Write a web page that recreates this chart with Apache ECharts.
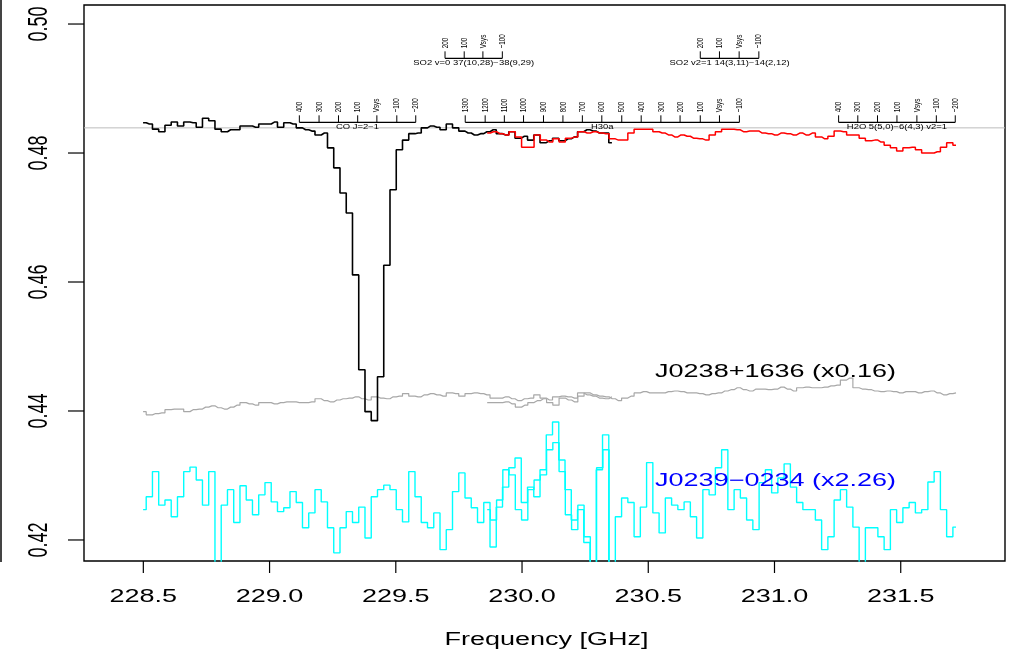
<!DOCTYPE html>
<html><head><meta charset="utf-8">
<script src="https://cdn.jsdelivr.net/npm/echarts@6/dist/echarts.min.js"></script>
<style>html,body{margin:0;padding:0;background:#fff}#c{width:1026px;height:652px}</style>
</head><body><div id="c"></div>
<script>
// ---- data ----
const chanWidth = 0.02476;   // GHz per channel
const startA = 228.499;      // first channel, window A
const startB = 229.862;      // first channel, window B

const coA = [0.4847,0.4845,0.4837,0.4833,0.4843,0.4848,0.4842,0.4848,0.4847,0.4840,
0.4854,0.4850,0.4837,0.4833,0.4836,0.4836,0.4842,0.4842,0.4840,0.4845,
0.4845,0.4848,0.4840,0.4847,0.4845,0.4839,0.4836,0.4834,0.4828,0.4831,
0.4808,0.4777,0.4738,0.4707,0.4611,0.4464,0.4399,0.4385,0.4453,0.4626,
0.4743,0.4805,0.4820,0.4830,0.4831,0.4839,0.4842,0.4840,0.4836,0.4845,
0.4839,0.4834,0.4831,0.4828,0.4830,0.4833,0.4836,0.4830,0.4828,0.4833,
0.4823,0.4826,0.4820,0.4828,0.4816,0.4819,0.4823,0.4819,0.4822,0.4825,
0.4833,0.4836,0.4834,0.4831,0.4831,0.4816];

const redB = [0.4831,0.4833,0.4830,0.4828,0.4833,0.4825,0.4809,0.4809,0.4828,0.4820,
0.4817,0.4822,0.4817,0.4823,0.4825,0.4833,0.4831,0.4833,0.4831,0.4830,
0.4822,0.4820,0.4820,0.4831,0.4837,0.4837,0.4837,0.4833,0.4831,0.4828,
0.4825,0.4828,0.4826,0.4823,0.4822,0.4820,0.4828,0.4833,0.4837,0.4837,
0.4836,0.4833,0.4834,0.4834,0.4831,0.4830,0.4828,0.4831,0.4830,0.4828,
0.4831,0.4828,0.4831,0.4825,0.4822,0.4826,0.4834,0.4833,0.4828,0.4828,
0.4823,0.4819,0.4820,0.4817,0.4812,0.4808,0.4803,0.4808,0.4809,0.4805,
0.4800,0.4800,0.4802,0.4809,0.4816,0.4812];

const grayA = [0.4399,0.4394,0.4396,0.4397,0.4402,0.4403,0.4403,0.4399,0.4402,0.4403,
0.4406,0.4408,0.4405,0.4403,0.4406,0.4409,0.4413,0.4411,0.4409,0.4413,
0.4413,0.4411,0.4413,0.4414,0.4414,0.4413,0.4413,0.4414,0.4419,0.4416,
0.4414,0.4417,0.4419,0.4420,0.4422,0.4419,0.4417,0.4422,0.4420,0.4419,
0.4422,0.4423,0.4427,0.4423,0.4422,0.4425,0.4427,0.4425,0.4423,0.4428,
0.4427,0.4423,0.4427,0.4428,0.4427,0.4425,0.4420,0.4420,0.4422,0.4419,
0.4416,0.4419,0.4420,0.4425,0.4420,0.4417,0.4422,0.4423,0.4422,0.4420,
0.4428,0.4425,0.4423,0.4420,0.4419,0.4422];

const grayB = [0.4413,0.4413,0.4413,0.4414,0.4411,0.4406,0.4409,0.4413,0.4416,0.4419,
0.4413,0.4409,0.4420,0.4417,0.4414,0.4423,0.4428,0.4425,0.4423,0.4422,
0.4419,0.4416,0.4420,0.4423,0.4428,0.4430,0.4428,0.4428,0.4428,0.4430,
0.4431,0.4430,0.4428,0.4428,0.4427,0.4425,0.4427,0.4428,0.4431,0.4433,
0.4436,0.4433,0.4431,0.4434,0.4434,0.4433,0.4434,0.4437,0.4434,0.4431,
0.4436,0.4437,0.4436,0.4436,0.4437,0.4439,0.4440,0.4448,0.4451,0.4436,
0.4434,0.4433,0.4431,0.4430,0.4431,0.4430,0.4428,0.4430,0.4430,0.4428,
0.4430,0.4431,0.4428,0.4425,0.4427,0.4428];

const cyanA = [0.4247,0.4267,0.4306,0.4254,0.4262,0.4236,0.4267,0.4306,0.4313,0.4293,
0.4254,0.4306,0.4160,0.4254,0.4278,0.4227,0.4284,0.4262,0.4239,0.4270,
0.4289,0.4259,0.4244,0.4250,0.4275,0.4258,0.4219,0.4242,0.4278,0.4259,
0.4219,0.4180,0.4219,0.4244,0.4227,0.4251,0.4203,0.4267,0.4278,0.4285,
0.4278,0.4247,0.4228,0.4306,0.4267,0.4227,0.4219,0.4242,0.4185,0.4216,
0.4275,0.4304,0.4265,0.4250,0.4227,0.4258,0.4189,0.4251,0.4282,0.4312,
0.4327,0.4258,0.4282,0.4267,0.4309,0.4363,0.4383,0.4324,0.4278,0.4231,
0.4247,0.4196,0.4160,0.4309,0.4363,0.4160];

const cyanB = [0.4247,0.4231,0.4262,0.4309,0.4301,0.4247,0.4231,0.4278,0.4293,0.4301,
0.4340,0.4351,0.4306,0.4239,0.4216,0.4254,0.4205,0.4160,0.4312,0.4340,
0.4160,0.4236,0.4265,0.4258,0.4205,0.4251,0.4320,0.4242,0.4211,0.4265,
0.4254,0.4247,0.4259,0.4236,0.4203,0.4278,0.4270,0.4312,0.4340,0.4247,
0.4278,0.4265,0.4231,0.4216,0.4289,0.4309,0.4273,0.4296,0.4318,0.4282,
0.4258,0.4247,0.4247,0.4231,0.4185,0.4205,0.4262,0.4278,0.4251,0.4220,
0.4160,0.4219,0.4219,0.4205,0.4185,0.4247,0.4227,0.4250,0.4258,0.4242,
0.4247,0.4290,0.4306,0.4247,0.4205,0.4220];

const xTicks = [228.5, 229.0, 229.5, 230.0, 230.5, 231.0, 231.5];
const xTickLabels = ['228.5','229.0','229.5','230.0','230.5','231.0','231.5'];
const yTicks = [0.42, 0.44, 0.46, 0.48, 0.50];
const yTickLabels = ['0.42','0.44','0.46','0.48','0.50'];
const contLevel = 0.4839;

const velLabels7 = ['400','300','200','100','Vsys','\u2212100','\u2212200'];
const velLabelsH30 = ['1300','1200','1100','1000','900','800','700','600','500','400','300','200','100','Vsys','\u2212100'];
const velLabelsSO2 = ['200','100','Vsys','\u2212100'];

const coTicks  = [229.118,229.196,229.273,229.349,229.425,229.504,229.579];
const h30Ticks = [229.775,229.854,229.930,230.006,230.085,230.162,230.239,230.316,230.395,230.472,230.550,230.626,230.706,230.782,230.861];
const so2aTicks = [229.695,229.771,229.845,229.922];
const so2bTicks = [230.706,230.782,230.860,230.938];
const h2oTicks = [231.254,231.330,231.408,231.485,231.564,231.641,231.716];

const markerNames = ['CO J=2\u22121','H30a','SO2 v=0 37(10,28)\u221238(9,29)','SO2 v2=1 14(3,11)\u221214(2,12)','H2O 5(5,0)\u22126(4,3) v2=1'];
const markerLevels = [0.48476, 0.48476, 0.49468, 0.49468, 0.48476];
const markers = [
  {name: markerNames[0], level: markerLevels[0], ticks: coTicks,  labels: velLabels7},
  {name: markerNames[1], level: markerLevels[1], ticks: h30Ticks, labels: velLabelsH30},
  {name: markerNames[2], level: markerLevels[2], ticks: so2aTicks, labels: velLabelsSO2},
  {name: markerNames[3], level: markerLevels[3], ticks: so2bTicks, labels: velLabelsSO2},
  {name: markerNames[4], level: markerLevels[4], ticks: h2oTicks, labels: velLabels7}
];

// ---- chart ----
const xMin = 228.265, xMax = 231.913, yMin = 0.41674, yMax = 0.50295;
const FONT = '"Liberation Sans", Arial, Helvetica, sans-serif';
const SX = 1.5; // horizontal glyph stretch of the reference

function pairs(start, vals) { return vals.map((v, i) => [+(start + i * chanWidth).toFixed(5), v]); }

function stepLine(name, data, color, width, z) {
  return {
    name, type: 'line', data, step: 'middle', showSymbol: false, symbol: 'none',
    silent: true, animation: false, clip: true, z,
    lineStyle: { color, width }
  };
}

const chart = echarts.init(document.getElementById('c'), null, { renderer: 'canvas' });

const option = {
  animation: false,
  backgroundColor: '#fff',
  grid: { left: 84, right: 21, top: 5, bottom: 91, show: true, borderColor: '#000', borderWidth: 1.4, backgroundColor: 'transparent' },
  xAxis: { type: 'value', min: xMin, max: xMax, axisLine: { show: false }, axisTick: { show: false }, axisLabel: { show: false }, splitLine: { show: false } },
  yAxis: { type: 'value', min: yMin, max: yMax, axisLine: { show: false }, axisTick: { show: false }, axisLabel: { show: false }, splitLine: { show: false } },
  graphic: [
    { type: 'line', shape: { x1: 1, y1: 0, x2: 1, y2: 562 }, style: { stroke: '#444', lineWidth: 2 }, silent: true }
  ],
  series: [
    { name: 'continuum', type: 'line', data: [[xMin, contLevel], [xMax, contLevel]], showSymbol: false, symbol: 'none',
      silent: true, animation: false, z: 1, lineStyle: { color: '#bdbdbd', width: 1 } },
    stepLine('J0239-0234 A', pairs(startA, cyanA), '#00ffff', 1.4, 2),
    stepLine('J0239-0234 B', pairs(startB, cyanB), '#00ffff', 1.4, 2),
    stepLine('J0238+1636 A', pairs(startA, grayA), '#a8a8a8', 1.2, 3),
    stepLine('J0238+1636 B', pairs(startB, grayB), '#a8a8a8', 1.2, 3),
    stepLine('target A', pairs(startA, coA), '#000000', 1.6, 4),
    stepLine('target B', pairs(startB, redB), '#ff0000', 1.5, 5),
    // x ticks + labels
    { type: 'custom', silent: true, clip: false, z: 10, animation: false,
      data: xTicks.map(t => [t, yMin]), encode: { x: 0, y: 1 },
      renderItem: (params, api) => {
        const p = api.coord([api.value(0), api.value(1)]);
        return { type: 'group', children: [
          { type: 'line', shape: { x1: p[0], y1: p[1], x2: p[0], y2: p[1] + 12 }, style: { stroke: '#000', lineWidth: 1.2 } },
          { type: 'text', x: p[0], y: p[1] + 36, scaleX: SX, style: { text: xTickLabels[params.dataIndex], fontSize: 18, fontFamily: FONT, fill: '#000', align: 'center', verticalAlign: 'middle' } }
        ] };
      } },
    // y ticks + labels
    { type: 'custom', silent: true, clip: false, z: 10, animation: false,
      data: yTicks.map(t => [xMin, t]), encode: { x: 0, y: 1 },
      renderItem: (params, api) => {
        const p = api.coord([api.value(0), api.value(1)]);
        return { type: 'group', children: [
          { type: 'line', shape: { x1: p[0] - 16, y1: p[1], x2: p[0], y2: p[1] }, style: { stroke: '#000', lineWidth: 1.2 } },
          { type: 'text', x: p[0] - 44, y: p[1], rotation: Math.PI / 2, scaleY: SX, style: { text: yTickLabels[params.dataIndex], fontSize: 18, fontFamily: FONT, fill: '#000', align: 'center', verticalAlign: 'middle' } }
        ] };
      } },
    // axis title
    { type: 'custom', silent: true, clip: false, z: 10, animation: false,
      data: [[(xMin + xMax) / 2, yMin]], encode: { x: 0, y: 1 },
      renderItem: (params, api) => {
        const p = api.coord([api.value(0), api.value(1)]);
        return { type: 'text', x: p[0] + 2, y: p[1] + 79, scaleX: SX, style: { text: 'Frequency [GHz]', fontSize: 18, fontFamily: FONT, fill: '#000', align: 'center', verticalAlign: 'middle' } };
      } },
    // source labels
    { type: 'custom', silent: true, clip: false, z: 11, animation: false,
      data: [[230.527, 0.44605], [230.527, 0.42915]], encode: { x: 0, y: 1 },
      renderItem: (params, api) => {
        const p = api.coord([api.value(0), api.value(1)]);
        const txt = ['J0238+1636 (x0.16)', 'J0239\u22120234 (x2.26)'][params.dataIndex];
        const col = ['#000000', '#0000ff'][params.dataIndex];
        return { type: 'text', x: p[0], y: p[1], scaleX: SX, style: { text: txt, fontSize: 18, fontFamily: FONT, fill: col, align: 'left', verticalAlign: 'middle' } };
      } },
    // line-identification velocity scales
    { type: 'custom', silent: true, clip: false, z: 12, animation: false,
      data: markers.map(m => [m.ticks[0], m.level]), encode: { x: 0, y: 1 },
      renderItem: (params, api) => {
        const m = markers[params.dataIndex];
        const pts = m.ticks.map(f => api.coord([f, m.level]));
        const y = pts[0][1];
        const ch = [
          { type: 'line', shape: { x1: pts[0][0], y1: y, x2: pts[pts.length - 1][0], y2: y }, style: { stroke: '#000', lineWidth: 1.3 } }
        ];
        pts.forEach((p, i) => {
          ch.push({ type: 'line', shape: { x1: p[0], y1: y, x2: p[0], y2: y - 7 }, style: { stroke: '#000', lineWidth: 1 } });
          ch.push({ type: 'text', x: p[0], y: y - 10, rotation: Math.PI / 2, scaleY: SX,
            style: { text: m.labels[i], fontSize: 6.3, fontFamily: FONT, fill: '#000', align: 'left', verticalAlign: 'middle' } });
        });
        const mid = (pts[0][0] + pts[pts.length - 1][0]) / 2;
        ch.push({ type: 'text', x: mid, y: y + 5, scaleX: SX,
          style: { text: m.name, fontSize: 6.3, fontFamily: FONT, fill: '#000', align: 'center', verticalAlign: 'middle' } });
        return { type: 'group', children: ch };
      } }
  ]
};
chart.setOption(option);
</script>
</body></html>
